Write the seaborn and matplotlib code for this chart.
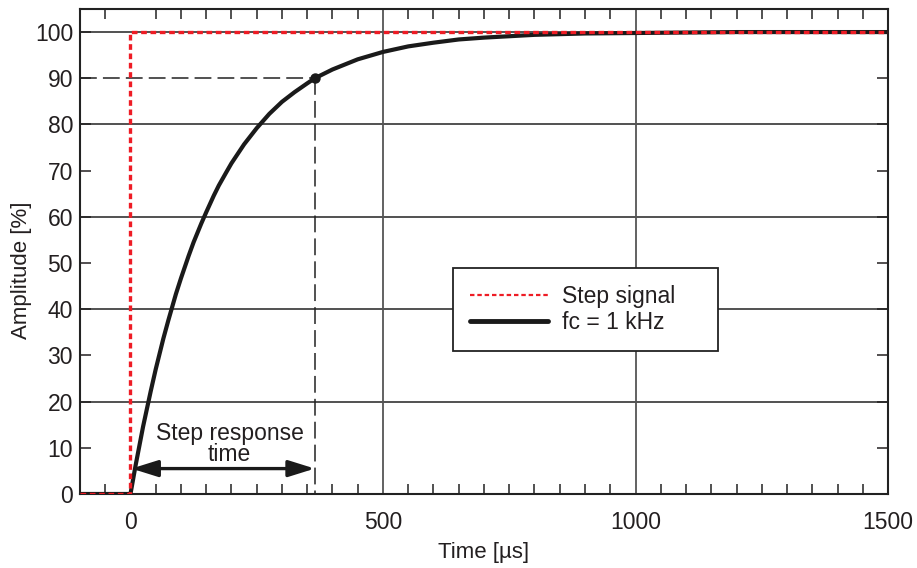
import numpy as np
import pandas as pd
import seaborn as sns
import matplotlib.pyplot as plt
from matplotlib.ticker import MultipleLocator, FixedLocator
from matplotlib.lines import Line2D

# Values
step_time = [-100, 0, 0, 1500]
step_amp = [0, 0, 100, 100]

resp_time = [-100, 0, 10, 25, 40, 50, 65, 75, 90, 100, 115, 125, 140, 150, 165, 175,
             190, 200, 225, 250, 275, 300, 325, 350, 365, 400, 450, 500, 550, 600,
             650, 700, 800, 900, 1000, 1200, 1500]
resp_amp = [0, 0, 6.1, 14.6, 22.2, 27.0, 33.6, 37.6, 43.3, 46.7, 51.5, 54.5, 58.5, 61.0,
            64.6, 66.8, 69.7, 71.6, 75.7, 79.2, 82.3, 84.9, 87.0, 88.9, 90.0, 91.9,
            94.1, 95.7, 96.9, 97.7, 98.4, 98.8, 99.4, 99.7, 99.8, 100, 100]

t90 = 365
level90 = 90
ytick_vals = [0, 10, 20, 30, 40, 50, 60, 70, 80, 90, 100]
ygrid_vals = [20, 40, 60, 80, 100]
xtick_vals = [0, 500, 1000, 1500]
xgrid_vals = [500, 1000]

step_df = pd.DataFrame({"t": step_time, "a": step_amp})
resp_df = pd.DataFrame({"t": resp_time, "a": resp_amp})

sns.set_style("white")
plt.rcParams['font.family'] = ['Liberation Sans', 'DejaVu Sans']
ink = '#231f20'

fig = plt.figure(figsize=(9.17, 5.68), dpi=100)
ax = fig.add_axes([0.0872, 0.1303, 0.8812, 0.8539])

# grid
for g in ygrid_vals:
    ax.axhline(g, color='#222222', lw=1.1, zorder=1)
for g in xgrid_vals:
    ax.axvline(g, color='#555555', lw=1.3, zorder=1)

# helper lines to the 90 % point
ax.plot([-100, t90], [level90, level90], color='#222222', lw=1.1,
        dashes=(11, 4), zorder=2)
ax.plot([t90, t90], [level90, 0], color='#222222', lw=1.1,
        dashes=(11, 4), zorder=2)

sns.lineplot(data=resp_df, x="t", y="a", ax=ax, color='#1a1a1a', lw=3.0,
             estimator=None, sort=False, zorder=3)
sns.lineplot(data=step_df, x="t", y="a", ax=ax, color='#ee1c25', lw=2.4,
             estimator=None, sort=False, dashes=False, zorder=4)
ax.lines[-1].set_dashes((1.7, 1.1))
ax.plot([t90], [level90], 'o', color='#1a1a1a', ms=6.5, zorder=5)

# step response time arrow
ax.annotate("", xy=(2, 5.5), xytext=(t90, 5.5),
            arrowprops=dict(arrowstyle='<|-|>,head_length=1.6,head_width=0.5',
                            color='#1a1a1a', lw=2.4, shrinkA=0, shrinkB=0))
ax.text(196, 10.8, "Step response\ntime", ha='center', va='center',
        fontsize=16.5, linespacing=0.9, color=ink)

ax.set_xlim(-100, 1500)
ax.set_ylim(0, 105)
ax.xaxis.set_major_locator(FixedLocator(xtick_vals))
ax.xaxis.set_minor_locator(MultipleLocator(50))
ax.yaxis.set_major_locator(FixedLocator(ytick_vals))
ax.tick_params(axis='x', which='major', direction='in', length=0, labelsize=16.5,
               pad=12, colors=ink)
ax.tick_params(axis='x', which='minor', direction='in', length=7, width=1.1,
               top=True, bottom=True, color='#222222')
ax.tick_params(axis='y', which='major', direction='in', length=8, width=1.1,
               left=True, right=True, labelsize=16.5, pad=5, colors=ink)
ax.set_xlabel("Time [µs]", fontsize=16, color=ink, labelpad=6)
ax.set_ylabel("Amplitude [%]", fontsize=16, color=ink)
ax.yaxis.set_label_coords(-0.059, 0.462)

for s in ax.spines.values():
    s.set_color('#222222')
    s.set_linewidth(1.5)

handles = [Line2D([], [], color='#ee1c25', lw=1.6, dashes=(2.0, 1.3)),
           Line2D([], [], color='#1a1a1a', lw=3.5)]
leg = ax.legend(handles, ["Step signal", "fc = 1 kHz"], loc='center left',
                bbox_to_anchor=(0.4616, 0.2948, 0.328, 0.1711), mode='expand',
                fontsize=16.5, frameon=True,
                fancybox=False, edgecolor='#222222', framealpha=1,
                handlelength=3.4, borderpad=0.75, labelspacing=0.1,
                handletextpad=0.6, borderaxespad=0)
leg.get_frame().set_linewidth(1.3)
for t in leg.get_texts():
    t.set_color(ink)

fig.savefig("out.png", dpi=100)
